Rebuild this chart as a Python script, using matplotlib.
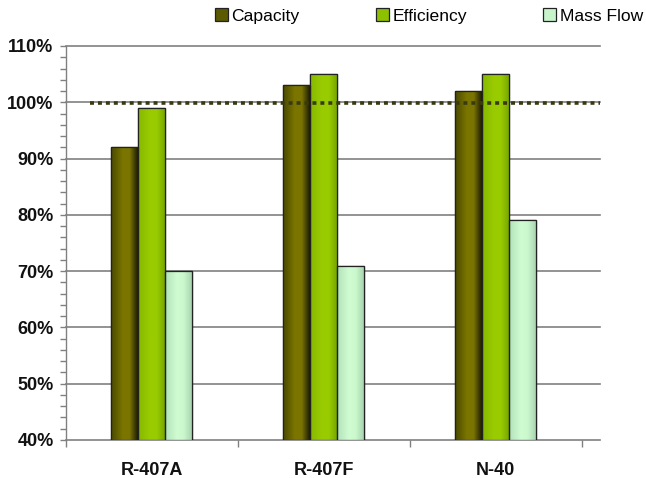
import numpy as np
import matplotlib
matplotlib.use("Agg")
import matplotlib.pyplot as plt
from matplotlib.colors import LinearSegmentedColormap
from matplotlib.patches import Patch
from matplotlib.ticker import MultipleLocator, PercentFormatter

plt.rcParams['font.family'] = ['Liberation Sans', 'DejaVu Sans']

categories = ["R-407A", "R-407F", "N-40"]
series_names = ["Capacity", "Efficiency", "Mass Flow"]
capacity = [92, 103, 102]
efficiency = [99, 105, 105]
mass_flow = [70, 71, 79]
reference_level = 99.8
y_ticks = [40, 50, 60, 70, 80, 90, 100, 110]

series_values = [capacity, efficiency, mass_flow]
# horizontal shading for each series: left edge, centre, right edge
shades = [
    ["#4a4a00", "#7c7600", "#7a7400", "#1e1e00"],
    ["#86b800", "#9acc00", "#99cc00", "#7aa800"],
    ["#b2e2ba", "#d0fcd2", "#ccf8ce", "#a8d4b0"],
]
legend_colors = ["#5c5a00", "#8cc000", "#c8f4cc"]

fig = plt.figure(figsize=(6.46, 4.78), dpi=100)
ax = fig.add_axes([66 / 646, 38 / 478, (600 - 66) / 646, (440 - 46) / 478])

x = np.arange(len(categories))
width = 0.157
base = 40

for i, (vals, cols) in enumerate(zip(series_values, shades)):
    offsets = x + (i - 1) * width
    bars = ax.bar(offsets, np.array(vals) - base, width, bottom=base,
                  color=cols[1], edgecolor="#222222", linewidth=0.9, zorder=3)
    cmap = LinearSegmentedColormap.from_list(
        f"shade{i}", list(zip([0.0, 0.45, 0.7, 1.0], cols)))
    grad = np.linspace(0, 1, 64).reshape(1, -1)
    for b in bars:
        x0, y0 = b.get_x(), b.get_y()
        im = ax.imshow(grad, cmap=cmap, aspect="auto", zorder=3.5,
                       extent=(x0, x0 + b.get_width(), y0, y0 + b.get_height()),
                       interpolation="bilinear")
        im.set_clip_path(b)
        ax.add_patch(plt.Rectangle((x0, y0), b.get_width(), b.get_height(),
                                   fill=False, edgecolor="#222222",
                                   linewidth=0.9, zorder=4))

# horizontal gridlines, including the top one at 110 %
for yv in y_ticks[1:]:
    ax.axhline(yv, color="#808080", linewidth=1.2, zorder=1, clip_on=False)

# reference line at 100 %
ax.plot([-0.36, 2.61], [reference_level, reference_level],
        color="#3a3a10", linestyle=(0, (1.1, 1.1)), linewidth=2.6, zorder=5)

ax.set_xlim(-0.5, 2.607)
ax.set_ylim(40, 110)
ax.set_yticks(y_ticks)
ax.yaxis.set_minor_locator(MultipleLocator(2))
ax.yaxis.set_major_formatter(PercentFormatter(decimals=0))
ax.set_xticks(x)
ax.set_xticklabels(categories)
ax.set_xticks(np.arange(len(categories) + 1) - 0.5, minor=True)

ax.spines["right"].set_visible(False)
ax.spines["top"].set_visible(False)
ax.spines["left"].set_color("#808080")
ax.spines["bottom"].set_color("#808080")
ax.spines["left"].set_linewidth(1.0)
ax.spines["bottom"].set_linewidth(1.2)

ax.tick_params(axis="y", which="major", length=4, color="#808080", width=1,
               pad=5, labelsize=13)
ax.tick_params(axis="y", which="minor", length=4, color="#808080", width=1)
ax.tick_params(axis="x", which="major", length=0, pad=15.5, labelsize=13)
ax.tick_params(axis="x", which="minor", length=5, color="#808080", width=1)
for lab in ax.get_xticklabels() + ax.get_yticklabels():
    lab.set_fontweight("bold")
    lab.set_color("#111111")

handles = [Patch(facecolor=c, edgecolor="#222222", linewidth=0.9)
           for c in legend_colors]
fig.legend(handles, series_names, loc="center", bbox_to_anchor=(429 / 646, 1 - 16 / 478),
           ncol=3, frameon=False, fontsize=12.6, handlelength=0.75, handleheight=0.75,
           handletextpad=0.2, columnspacing=4.35, borderaxespad=0, borderpad=0)

fig.savefig("out.png", dpi=100, facecolor="white")
